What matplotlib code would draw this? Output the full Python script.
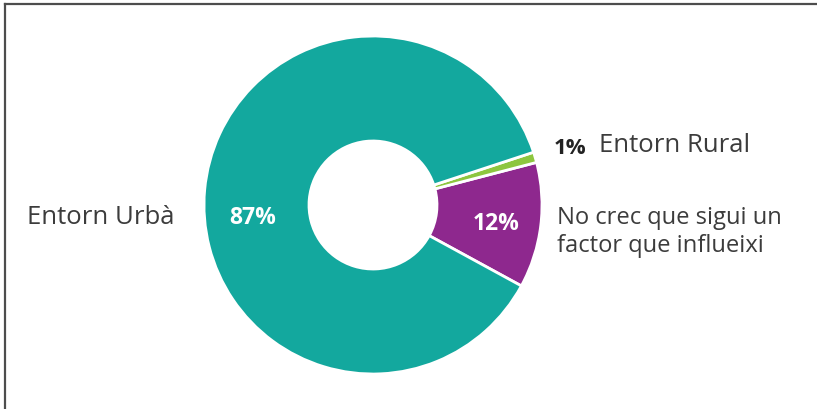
import matplotlib
matplotlib.use("Agg")
import matplotlib.pyplot as plt
from matplotlib.lines import Line2D

# Share of answers per category (percent)
categories = ["No crec que sigui un\nfactor que influeixi", "Entorn Rural", "Entorn Urbà"]
values = [12, 1, 87]
pct_labels = ["12%", "1%", "87%"]
colors = ["#8E288E", "#8DC63F", "#13A89E"]

W, H = 817, 409
fig = plt.figure(figsize=(W / 100, H / 100), dpi=100)
ax = fig.add_axes([0, 0, 1, 1])

cx, cy = 373, H - 205
R = 169
hole = 64 / R

ax.pie(values, colors=colors, radius=R, center=(cx, cy),
       startangle=-28.6, counterclock=True, frame=True,
       wedgeprops=dict(width=R * (1 - hole), edgecolor="white", linewidth=2))
ax.set_xlim(0, W)
ax.set_ylim(0, H)
ax.set_aspect("auto")
ax.axis("off")

font = "Open Sans"
txt = "#3C3C3C"

def y(v):
    return H - v

# percentage labels
ax.text(253, y(218), pct_labels[2], color="white", fontsize=16.5, fontweight="bold",
        family=font, ha="center", va="center")
ax.text(496, y(224), pct_labels[0], color="white", fontsize=16.5, fontweight="bold",
        family=font, ha="center", va="center")
ax.text(570, y(149), pct_labels[1], color="#222222", fontsize=16, fontweight="bold",
        family=font, ha="center", va="center")

# category labels
ax.text(27, y(218), categories[2], color=txt, fontsize=18.5, family=font,
        ha="left", va="center")
ax.text(599, y(146), categories[1], color=txt, fontsize=18.5, family=font,
        ha="left", va="center")
ax.text(557, y(232), categories[0], color=txt, fontsize=17.1, family=font,
        ha="left", va="center", linespacing=1.25)

# outer frame (left and top edges)
fig.add_artist(Line2D([4.5 / W, 4.5 / W], [0, 1 - 3.5 / H], transform=fig.transFigure,
                      color="#4D4D4D", linewidth=1.6))
fig.add_artist(Line2D([4.5 / W, 1], [1 - 3.5 / H, 1 - 3.5 / H], transform=fig.transFigure,
                      color="#4D4D4D", linewidth=1.6))

fig.savefig("out.png", dpi=100, facecolor="white")
